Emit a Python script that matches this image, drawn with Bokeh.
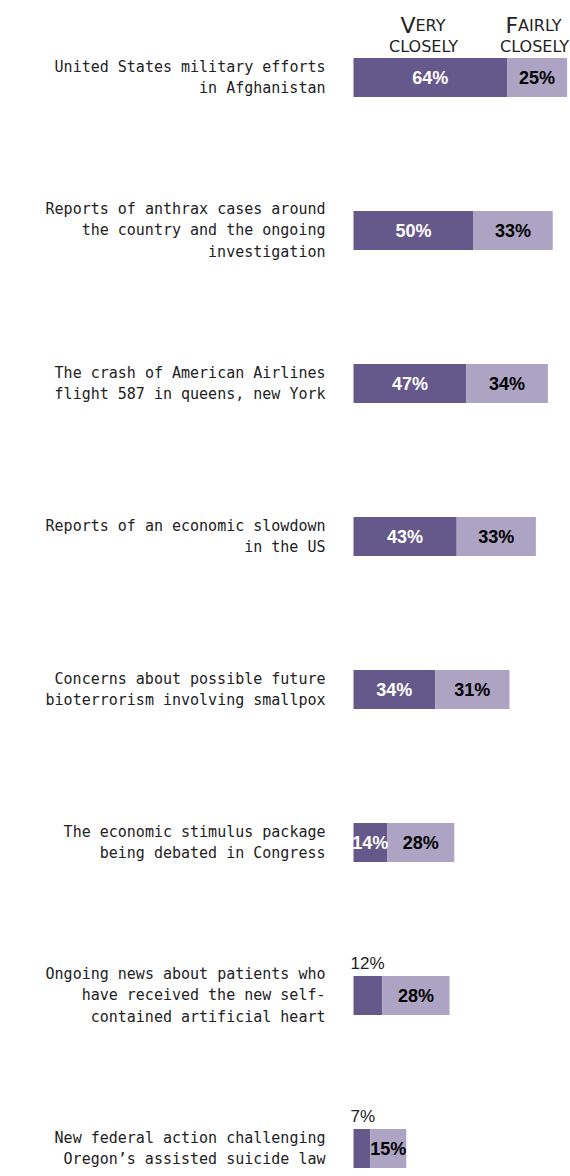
from bokeh.plotting import figure
from bokeh.models import ColumnDataSource, Range1d
from bokeh.core.properties import value
from bokeh.embed import file_html
from bokeh.resources import INLINE

# ---------------- data ----------------
topics = [
    "United States military efforts\nin Afghanistan",
    "Reports of anthrax cases around\nthe country and the ongoing\ninvestigation",
    "The crash of American Airlines\nflight 587 in queens, new York",
    "Reports of an economic slowdown\nin the US",
    "Concerns about possible future\nbioterrorism involving smallpox",
    "The economic stimulus package\nbeing debated in Congress",
    "Ongoing news about patients who\nhave received the new self-\ncontained artificial heart",
    "New federal action challenging\nOregon\u2019s assisted suicide law",
]
very_closely = [64, 50, 47, 43, 34, 14, 12, 7]
fairly_closely = [25, 33, 34, 33, 31, 28, 28, 15]
header_caps = ["V", "F"]
header_rest = ["ERY", "AIRLY"]
header_line2 = ["CLOSELY", "CLOSELY"]

# ---------------- layout / style ----------------
DARK = "#65588A"
LIGHT = "#ADA4C4"
TEXT = "#222222"
W, H = 570, 1176
PX_PER_PCT = 2.4
ZERO_PX = 353          # screen x of 0%
ROW0_PX = 77           # screen y of first row centre
ROW_STEP = 153         # px between rows
BAR_H = 39 / ROW_STEP
HEADER_X = [(423 - ZERO_PX) / PX_PER_PCT, (534 - ZERO_PX) / PX_PER_PCT]
HEADER_SPLIT = [-8, -16.4]
HDR1_OFF = 25 - ROW0_PX
HDR2_OFF = 46 - ROW0_PX

n = len(topics)
rows = list(range(n))
total = [v + f for v, f in zip(very_closely, fairly_closely)]
dark_mid = [v / 2 for v in very_closely]
light_mid = [v + f / 2 for v, f in zip(very_closely, fairly_closely)]
pct_v = [f"{v}%" for v in very_closely]
pct_f = [f"{f}%" for f in fairly_closely]

p = figure(
    width=W, height=H,
    x_range=Range1d(-ZERO_PX / PX_PER_PCT, (W - ZERO_PX) / PX_PER_PCT),
    y_range=Range1d((H - ROW0_PX) / ROW_STEP, -ROW0_PX / ROW_STEP),
    output_backend="svg", toolbar_location=None,
    x_axis_type=None, y_axis_type=None, min_border=0,
    outline_line_color=None,
)
p.grid.visible = False
p.background_fill_color = "white"
p.border_fill_color = "white"

src = ColumnDataSource(dict(
    row=rows, topic=topics, very=very_closely, fairly=fairly_closely,
    total=total, dmid=dark_mid, lmid=light_mid, pv=pct_v, pf=pct_f,
))

p.hbar(y="row", left=0, right="very", height=BAR_H, source=src,
       fill_color=DARK, line_color=None)
p.hbar(y="row", left="very", right="total", height=BAR_H, source=src,
       fill_color=LIGHT, line_color=None)

# topic labels
p.text(x=0, y="row", text="topic", source=src, x_offset=-28,
       text_align="right", text_baseline="middle",
       text_font=value("DejaVu Sans Mono"), text_font_size="15px",
       text_line_height=1.2, text_color=TEXT)

# percentages
inside = [i for i in rows if very_closely[i] >= 13]
outside = [i for i in rows if very_closely[i] < 13]
src_in = ColumnDataSource(dict(
    row=[rows[i] for i in inside], x=[dark_mid[i] for i in inside],
    t=[pct_v[i] for i in inside]))
src_out = ColumnDataSource(dict(
    row=[rows[i] for i in outside], x=[0 for i in outside],
    t=[pct_v[i] for i in outside]))

p.text(x="x", y="row", text="t", source=src_in, text_align="center",
       text_baseline="middle", text_font=value("Liberation Sans"),
       text_font_style="bold", text_font_size="18px", text_color="white")
p.text(x="x", y="row", text="t", source=src_out, text_align="left",
       text_baseline="middle", x_offset=-3, y_offset=-32,
       text_font=value("Liberation Sans"), text_font_size="17px",
       text_color=TEXT)
p.text(x="lmid", y="row", text="pf", source=src, text_align="center",
       text_baseline="middle", text_font=value("Liberation Sans"),
       text_font_style="bold", text_font_size="18px", text_color="black")

# column headers (small caps)
hsrc = ColumnDataSource(dict(x=HEADER_X, y=[0, 0], caps=header_caps,
                             rest=header_rest, l2=header_line2,
                             split=HEADER_SPLIT))
p.text(x="x", y="y", text="caps", source=hsrc, x_offset="split", y_offset=HDR1_OFF,
       text_align="right", text_baseline="alphabetic",
       text_font=value("DejaVu Sans"), text_font_size="22px", text_color=TEXT)
p.text(x="x", y="y", text="rest", source=hsrc, x_offset="split", y_offset=HDR1_OFF,
       text_align="left", text_baseline="alphabetic",
       text_font=value("DejaVu Sans"), text_font_size="16px", text_color=TEXT)
p.text(x="x", y="y", text="l2", source=hsrc, y_offset=HDR2_OFF,
       text_align="center", text_baseline="alphabetic",
       text_font=value("DejaVu Sans"), text_font_size="16px", text_color=TEXT)

open("out.html", "w").write(file_html(p, INLINE))
